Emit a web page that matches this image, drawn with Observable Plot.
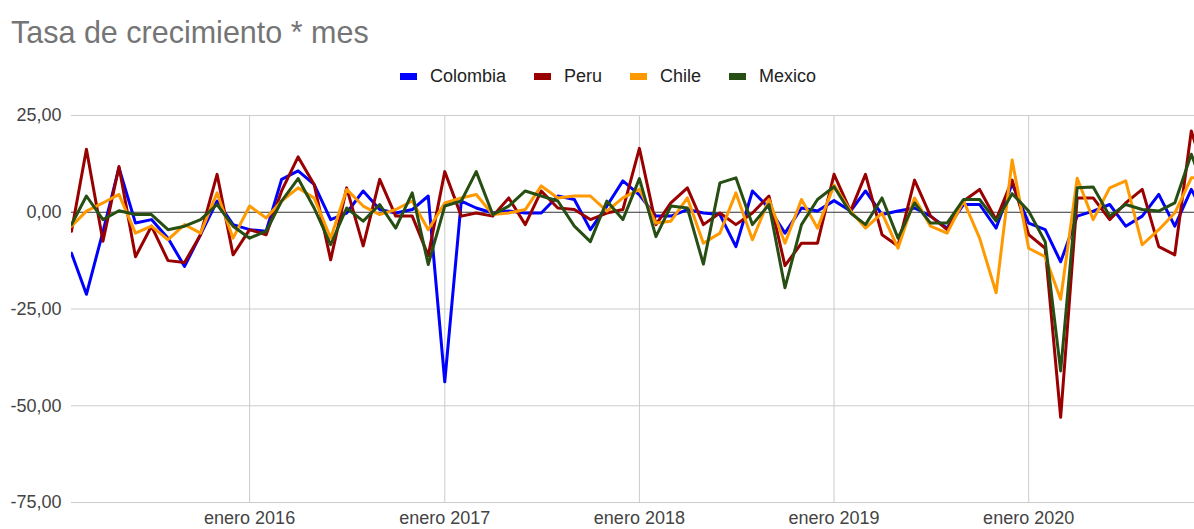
<!DOCTYPE html>
<html>
<head>
<meta charset="utf-8">
<script src="https://cdn.jsdelivr.net/npm/d3@7"></script>
<script src="https://cdn.jsdelivr.net/npm/@observablehq/plot@0.6"></script>
<style>
  body { margin: 0; background: #fff; font-family: Arial, "Liberation Sans", sans-serif; }
  #wrap { position: relative; width: 1194px; height: 529px; overflow: hidden; background: #fff; }
  #header { position: relative; height: 95px; }
  #title { position: absolute; left: 11px; top: 15px; font-size: 30.5px; color: #757575; white-space: nowrap; }
  #legend { position: absolute; left: 400px; top: 66px; display: flex; align-items: center; font-size: 18px; color: #222; }
  .item { display: flex; align-items: center; margin-right: 28px; }
  .sw { width: 17px; height: 7px; margin-right: 13px; }
  #chart svg { display: block; overflow: hidden; }
</style>
</head>
<body>
<div id="wrap">
  <div id="header">
    <div id="title"></div>
    <div id="legend"></div>
  </div>
  <div id="chart"></div>
</div>
<script>
const titleText = "Tasa de crecimiento * mes";
const countries = ["Colombia", "Peru", "Chile", "Mexico"];
const colors = ["#0000ff", "#990000", "#ff9900", "#274e13"];
const startYear = 2015, startMonth = 1; // Feb 2015 (0-based month)
const yTicks = [-75, -50, -25, 0, 25];
const xTickYears = [2016, 2017, 2018, 2019, 2020];
const xTickPrefix = "enero";

// Monthly values, Feb 2015 .. Dec 2020
const colombia = [-10.6, -21.2, -5, 11.5, -2.8, -1.9, -6.7, -14, -5.8, 2.9, -3.2, -4.5,
  -4.9, 8.5, 10.7, 7.2, -1.9, -0.2, 5.5, 0.7, -0.2, 0.7, 4.2, -43.8,
  2.9, 1.1, -0.2, 0.3, -0.2, -0.2, 4.2, 3.3, -4.5, 1.6, 8.1, 4.5,
  -1.0, -1.0, 0.7, -0.2, -0.6, -8.9, 5.5, 1.1, -5.4, 1.1, 0.3, 3.0,
  0.3, 5.5, -0.6, 0.3, 1.1, -1.0, -4.1, 2.0, 2.0, -4.1, 7.4, -2.8,
  -4.5, -12.8, -1.0, 0.3, 2.0, -3.6, -1.0, 4.6, -3.6, 5.9, -2];
const peru = [-4.9, 16.3, -7.5, 11.8, -11.5, -3.6, -12.5, -13, -5.8, 9.8, -11, -4.5,
  -5.8, 5.5, 14.3, 7.2, -12.3, 6.3, -8.7, 8.5, -1.0, -1.0, -11.2, 10.5,
  -1.0, -0.2, -1.0, 3.7, -3.2, 5.5, 1.1, 0.7, -1.9, -0.2, 0.7, 16.5,
  -3.2, 2.4, 6.3, -3.2, -0.2, -3.2, -0.2, 4.2, -13.8, -8.0, -8.0, 9.8,
  0.3, 9.8, -5.8, -8.7, 8.3, -1.0, -4.5, 2.9, 5.9, -1.9, 8.3, -5.8,
  -9.3, -53, 3.7, 3.7, -1.9, 2.4, 5.9, -8.9, -11, 21, 8];
const chile = [-3.6, 0.3, 2.4, 4.6, -5.4, -3.6, -7.1, -3.2, -5.4, 5.0, -6.7, 1.6,
  -1.5, 2.9, 6.3, 3.7, -6.7, 5.9, 1.6, -0.6, 0.7, 2.9, -4.5, 2.4,
  3.7, 4.6, -0.6, -0.2, 0.7, 6.8, 3.7, 4.2, 4.2, 0.3, 3.7, 5.9,
  -2.8, -2.3, 3.7, -8.0, -5.4, 5.0, -7.1, 3.3, -8.0, 3.3, -4.1, 7,
  0.3, -4.1, -0.2, -9.3, 3.7, -3.6, -5.4, 2.9, -6.7, -20.8, 13.5, -9.3,
  -11.5, -22.5, 8.8, -1.9, 6.3, 8.1, -8.4, -4.5, -0.2, 8.9, 9];
const mexico = [-3.2, 4.2, -1.9, 0.4, -0.6, -0.6, -4.5, -3.6, -1.9, 2.0, -3.6, -6.7,
  -4.9, 2.9, 8.7, 1.1, -8.4, 1.1, -2.3, 2.0, -4.1, 5.0, -13.5, 1.6,
  2.9, 10.5, -0.6, 1.6, 5.5, 4.2, 2.9, -3.6, -7.6, 2.9, -1.9, 8.7,
  -6.3, 1.6, 1.1, -13.4, 7.6, 8.9, -3.2, 2.0, -19.5, -3.2, 3.3, 6.6,
  -0.2, -3.2, 3.7, -6.7, 2.4, -2.8, -2.8, 3.3, 3.3, -2.3, 4.8, 0.3,
  -7.6, -41, 6.3, 6.5, -1.0, 2.0, 0.7, 0.3, 2.4, 15, 4];

const seriesValues = [colombia, peru, chile, mexico];
const monthDate = i => new Date(Date.UTC(startYear, startMonth + i, 1));
const data = [];
countries.forEach((c, k) => {
  seriesValues[k].forEach((v, i) => data.push({country: c, date: monthDate(i), value: v}));
});
const yearTicks = xTickYears.map(y => new Date(Date.UTC(y, 0, 1)));
const fmtY = d => (d < 0 ? "-" : "") + Math.abs(d).toFixed(2).replace(".", ",");

document.getElementById("title").textContent = titleText;
const legend = document.getElementById("legend");
countries.forEach((c, k) => {
  const item = document.createElement("div");
  item.className = "item";
  const sw = document.createElement("div");
  sw.className = "sw";
  sw.style.background = colors[k];
  const t = document.createElement("span");
  t.textContent = c;
  item.appendChild(sw); item.appendChild(t);
  legend.appendChild(item);
});

const chart = Plot.plot({
  width: 1194,
  height: 434,
  marginLeft: 71,
  marginRight: 0,
  marginTop: 20,
  marginBottom: 27,
  style: {fontFamily: "Arial, 'Liberation Sans', sans-serif", color: "#444", background: "#fff"},
  x: {type: "utc", domain: [new Date(Date.UTC(2015, 1, 1)), new Date(Date.UTC(2020, 10, 7))]},
  y: {domain: [-75, 25]},
  color: {domain: countries, range: colors},
  marks: [
    Plot.gridY(yTicks.filter(d => d !== 0), {stroke: "#cccccc", strokeOpacity: 1, strokeWidth: 1}),
    Plot.gridX(yearTicks, {stroke: "#cccccc", strokeOpacity: 1, strokeWidth: 1}),
    Plot.ruleY([0], {stroke: "#333", strokeWidth: 1}),
    Plot.axisY(yTicks, {tickSize: 0, tickPadding: 10, tickFormat: fmtY, fontSize: 18, label: null, fill: "#444"}),
    Plot.axisX(yearTicks, {tickSize: 0, tickPadding: 9, tickFormat: d => xTickPrefix + " " + d.getUTCFullYear(), fontSize: 18, label: null, fill: "#444"}),
    Plot.lineY(data, {x: "date", y: "value", z: "country", stroke: "country", strokeWidth: 3, clip: true})
  ]
});
document.getElementById("chart").appendChild(chart);
</script>
</body>
</html>
